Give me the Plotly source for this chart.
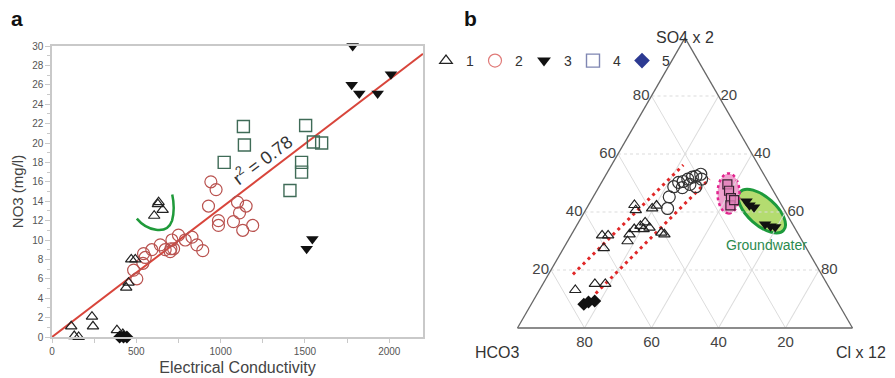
import math
import plotly.graph_objects as go

W, H = 895, 378
PAGE_OFF = 8          # the html body margin shifts the figure by 8 px
FONT = "Arial, Liberation Sans, sans-serif"

# ---------------- Panel a : NO3 vs Electrical Conductivity ----------------
tri_ec = [114, 132, 158, 237, 243, 385, 420, 440, 454, 470, 494, 606, 632, 628, 656]
tri_no3 = [1.1, 0.1, 0.0, 2.1, 1.1, 0.7, 0.3, 5.1, 5.6, 8.0, 8.0, 12.5, 13.9, 13.7, 13.1]

cir_ec = [503, 484, 539, 553, 543, 592, 642, 671, 701, 705, 721, 711, 750, 790, 830, 859, 894,
          928, 942, 973, 987, 987, 1076, 1112, 1100, 1151, 1131, 1190]
cir_no3 = [6.0, 6.9, 7.6, 8.2, 8.6, 9.0, 9.5, 9.0, 8.8, 9.1, 9.1, 10.0, 10.5, 10.0, 10.3, 9.5, 8.9,
           13.5, 16.0, 15.2, 12.0, 11.5, 11.9, 12.8, 13.9, 13.5, 11.0, 11.5]

sq_ec = [1021, 1135, 1141, 1411, 1480, 1480, 1504, 1550, 1599]
sq_no3 = [18.0, 21.7, 19.8, 15.1, 18.0, 17.0, 21.8, 20.1, 20.0]

inv_ec = [1783, 1777, 1822, 1931, 2010, 1510, 1544]
inv_no3 = [30.0, 26.0, 25.1, 25.1, 27.1, 9.1, 10.1]

dia_ec = [401, 424, 444]
dia_no3 = [0.0, 0.0, 0.0]

reg_slope = 0.01327
reg_intercept = 0.0
ec_range = [0, 2200]
no3_range = [0, 30]
ec_ticks = [0, 500, 1000, 1500, 2000]
r2_label = "r<sup>2</sup> = 0.78"

# ---------------- Panel b : ternary (SO4 x2, HCO3, Cl x12) ----------------
t1_so4 = [13.1, 15.2, 15.2, 27.5, 31.9, 31.9, 29.9, 32.3, 34.1, 35.2, 36.4, 34.6, 42.4, 40.6, 41.2, 42.2, 32.9, 32.3, 34.1]
t1_cl = [10.7, 15.5, 18.6, 12.0, 9.3, 11.1, 17.9, 17.3, 17.8, 19.1, 19.9, 22.1, 13.7, 15.0, 19.6, 20.4, 26.5, 27.7, 20.6]
t1_hco3 = [76.2, 69.3, 66.2, 60.5, 58.8, 57.0, 52.2, 50.4, 48.1, 45.7, 43.7, 43.3, 43.9, 44.4, 39.2, 37.4, 40.6, 40.0, 45.3]

t2_so4 = [45.2, 41.2, 48.7, 50.2, 50.5, 51.3, 52.0, 52.3, 53.0, 51.3, 48.7, 49.5, 48.4]
t2_cl = [22.7, 24.2, 22.3, 23.0, 24.2, 25.2, 26.2, 27.1, 28.2, 29.3, 28.9, 26.7, 25.0]
t2_hco3 = [32.1, 34.6, 29.0, 26.8, 25.3, 23.5, 21.8, 20.6, 18.8, 19.4, 22.4, 23.8, 26.6]

t3_so4 = [43.7, 42.3, 41.6, 35.8, 35.1, 34.8]
t3_cl = [46.5, 48.1, 49.8, 56.0, 58.0, 59.5]
t3_hco3 = [9.8, 9.6, 8.6, 8.2, 6.9, 5.7]

t4_so4 = [49.5, 47.3, 44.8, 42.3, 44.1]
t4_cl = [37.9, 39.5, 41.3, 42.4, 42.6]
t4_hco3 = [12.6, 13.2, 13.9, 15.3, 13.3]

t5_so4 = [8.2, 9.0, 9.3]
t5_cl = [15.7, 16.7, 18.4]
t5_hco3 = [76.1, 74.3, 72.3]

# dotted trend envelope lines (start, end) in ternary percentages
upper_so4, upper_cl, upper_hco3 = [18.5, 56.2], [7.3, 21.4], [74.2, 22.4]
lower_so4, lower_cl, lower_hco3 = [11.9, 51.4], [17.4, 31.6], [70.7, 17.0]

tern_ticks = [20, 40, 60, 80]
legend_names = ["1", "2", "3", "4", "5"]


# ---------------- layout geometry (in screen px of the page) ----------------
def sx(x):
    return (x - PAGE_OFF) / W


def sy(y):
    return 1 - (y - PAGE_OFF) / H


AX_L, AX_R, AX_T, AX_B = 52, 423, 46, 337          # panel a plot box
T_L, T_R, T_B = 517.5, 852.5, 328                 # ternary triangle
T_T = T_B - (T_R - T_L) * math.sqrt(3) / 2


def tern_to_paper(a, c):
    """ternary fractions (top, right) -> paper coords of the drawn triangle"""
    x = T_L + (T_R - T_L) * (c + a / 2)
    y = T_B - (T_B - T_T) * a
    return sx(x), sy(y)


def ellipse_path(cx, cy, ra, rb, ang_deg):
    """closed cubic-bezier ellipse path; centre in paper coords, radii in px"""
    th = math.radians(ang_deg)
    ux, uy = math.cos(th), math.sin(th)
    vx, vy = -math.sin(th), math.cos(th)
    k = 0.5523
    pcx, pcy = cx * W, (1 - cy) * H

    def pt(t):
        return (pcx + ra * math.cos(t) * ux + rb * math.sin(t) * vx,
                pcy + ra * math.cos(t) * uy + rb * math.sin(t) * vy)

    def dv(t):
        return (-ra * math.sin(t) * ux + rb * math.cos(t) * vx,
                -ra * math.sin(t) * uy + rb * math.cos(t) * vy)

    def P(x, y):
        return f"{x / W:.5f},{1 - y / H:.5f}"

    x0, y0 = pt(0)
    s = "M" + P(x0, y0)
    for i in range(4):
        t0, t1 = i * math.pi / 2, (i + 1) * math.pi / 2
        p0, p1 = pt(t0), pt(t1)
        d0, d1 = dv(t0), dv(t1)
        c1 = (p0[0] + k * d0[0], p0[1] + k * d0[1])
        c2 = (p1[0] - k * d1[0], p1[1] - k * d1[1])
        s += " C" + P(*c1) + " " + P(*c2) + " " + P(*p1)
    return s + " Z"


fig = go.Figure()

# ---- panel a traces ----
fig.add_trace(go.Scatter(x=ec_range, y=[reg_intercept + reg_slope * v for v in ec_range],
                         mode="lines", line=dict(color="#d8453b", width=2), showlegend=False))
fig.add_trace(go.Scatter(x=cir_ec, y=cir_no3, mode="markers", showlegend=False, cliponaxis=False,
                         marker=dict(symbol="circle-open", size=12, color="#b9524f", line=dict(width=1.2))))
fig.add_trace(go.Scatter(x=tri_ec, y=tri_no3, mode="markers", showlegend=False, cliponaxis=False,
                         marker=dict(symbol="triangle-up-open", size=10, color="#222", line=dict(width=1.2))))
fig.add_trace(go.Scatter(x=sq_ec, y=sq_no3, mode="markers", showlegend=False, cliponaxis=False,
                         marker=dict(symbol="square-open", size=12, color="#3f6b57", line=dict(width=1.4))))
fig.add_trace(go.Scatter(x=inv_ec, y=inv_no3, mode="markers", showlegend=False, cliponaxis=False,
                         marker=dict(symbol="triangle-down", size=11, color="#111")))
fig.add_trace(go.Scatter(x=dia_ec, y=dia_no3, mode="markers", showlegend=False, cliponaxis=False,
                         marker=dict(symbol="diamond", size=10, color="#111")))

# ---- panel b traces ----
for so4, cl, hco3 in [(upper_so4, upper_cl, upper_hco3), (lower_so4, lower_cl, lower_hco3)]:
    fig.add_trace(go.Scatterternary(a=so4, b=hco3, c=cl, mode="lines", showlegend=False,
                                    line=dict(color="#e02828", width=3, dash="3px,4px")))
fig.add_trace(go.Scatterternary(a=t1_so4, b=t1_hco3, c=t1_cl, mode="markers", showlegend=False,
                                marker=dict(symbol="triangle-up-open", size=10, color="#222", line=dict(width=1.2))))
fig.add_trace(go.Scatterternary(a=t2_so4, b=t2_hco3, c=t2_cl, mode="markers", showlegend=False,
                                marker=dict(symbol="circle-open", size=12, color="#333", line=dict(width=1.2))))
fig.add_trace(go.Scatterternary(a=t4_so4, b=t4_hco3, c=t4_cl, mode="markers", showlegend=False,
                                marker=dict(symbol="square", size=9, color="rgba(225,130,185,0.8)",
                                            line=dict(color="#3a2232", width=1.2))))
fig.add_trace(go.Scatterternary(a=t3_so4, b=t3_hco3, c=t3_cl, mode="markers", showlegend=False,
                                marker=dict(symbol="triangle-down", size=11, color="#111")))
fig.add_trace(go.Scatterternary(a=t5_so4, b=t5_hco3, c=t5_cl, mode="markers", showlegend=False,
                                marker=dict(symbol="diamond", size=10, color="#111")))

# ---- legend keys ----
leg_style = [
    dict(symbol="triangle-up-open", size=11, color="#222", line=dict(width=1.2)),
    dict(symbol="circle-open", size=13, color="#e07a78", line=dict(width=1.2)),
    dict(symbol="triangle-down", size=12, color="#111"),
    dict(symbol="square-open", size=13, color="#7f86b2", line=dict(width=1.4)),
    dict(symbol="diamond", size=12, color="#2c3a92"),
]
for name, mk in zip(legend_names, leg_style):
    fig.add_trace(go.Scatter(x=[None], y=[None], mode="markers", name=name, marker=mk, showlegend=True))

# ---- shapes: green ellipse, pink blob, green hand-drawn curve ----
gx, gy = tern_to_paper(0.403, 0.528)
px_, py_ = tern_to_paper(0.464, 0.398)
shapes = [
    dict(type="path", xref="paper", yref="paper", layer="below",
         path=ellipse_path(gx, gy, 29, 14, 41.5),
         fillcolor="#b4dc70", line=dict(color="#1d9a3c", width=3)),
    dict(type="path", xref="paper", yref="paper", layer="below",
         path=ellipse_path(px_, py_, 20, 11, 90),
         fillcolor="#f0a2cf", line=dict(color="#e2248e", width=2.5, dash="dot")),
    dict(type="path", xref="x", yref="y",
         path="M503,12.2 C560,11.0 680,10.4 712,12.0 C724,12.8 723,13.9 713,14.7",
         line=dict(color="#1f9a3a", width=2.5)),
]

gwx, gwy = tern_to_paper(0.287, 0.599)
title_font = dict(family=FONT, size=16, color="#333")


def ann(x, y, text, font, **kw):
    d = dict(x=x, y=y, xref="paper", yref="paper", text=text, showarrow=False,
             xanchor="center", yanchor="middle", font=font)
    d.update(kw)
    return d


annotations = [
    dict(x=1246, y=18.3, xref="x", yref="y", text=r2_label, textangle=-37, showarrow=False,
         xanchor="center", yanchor="middle", font=dict(family=FONT, size=18, color="#333")),
    ann(sx(17), sy(18), "<b>a</b>", dict(family=FONT, size=21, color="#111")),
    ann(sx(470), sy(18), "<b>b</b>", dict(family=FONT, size=21, color="#111")),
    ann(gwx, gwy, "Groundwater", dict(family=FONT, size=14, color="#2b8a4e")),
    # ternary corner titles
    ann(sx(685), sy(37.5), "SO4 x 2", title_font),
    ann(sx(497), sy(352), "HCO3", title_font),
    ann(sx(861), sy(352), "Cl x 12", title_font),
]

tern_axis = dict(tickvals=tern_ticks, ticks="", showline=True, linecolor="#666", linewidth=1.3,
                 gridcolor="#dcdcdc", gridwidth=1, tickfont=dict(family=FONT, size=15, color="#444"),
                 min=0, title=dict(text=""))

fig.update_layout(
    width=W, height=H, autosize=False,
    margin=dict(l=0, r=0, t=0, b=0, autoexpand=False),
    paper_bgcolor="white", plot_bgcolor="white",
    font=dict(family=FONT, color="#333"),
    xaxis=dict(domain=[sx(AX_L), sx(AX_R)], range=ec_range, tickvals=ec_ticks, automargin=False,
               showgrid=False, zeroline=False, showline=True, mirror=True,
               linecolor="#c9c9c9", linewidth=1.5, ticks="outside", ticklen=4, tickcolor="#c9c9c9",
               minor=dict(dtick=250, ticks="outside", ticklen=4, tickcolor="#c9c9c9"),
               tickfont=dict(family=FONT, size=10, color="#555"),
               title=dict(text="Electrical Conductivity", font=dict(family=FONT, size=16, color="#444"),
                          standoff=6)),
    yaxis=dict(domain=[sy(AX_B), sy(AX_T)], range=no3_range, dtick=2, automargin=False,
               showgrid=False, zeroline=False, showline=True, mirror=True,
               linecolor="#c9c9c9", linewidth=1.5, ticks="outside", ticklen=5, tickcolor="#c9c9c9",
               minor=dict(dtick=1, ticks="outside", ticklen=3, tickcolor="#c9c9c9"),
               tickfont=dict(family=FONT, size=10, color="#555"),
               title=dict(text="NO3 (mg/l)", font=dict(family=FONT, size=15, color="#444"), standoff=5)),
    ternary=dict(
        domain=dict(x=[sx(T_L), sx(T_R)], y=[sy(T_B), sy(T_T)]),
        bgcolor="rgba(0,0,0,0)", sum=100,
        aaxis=dict(griddash="dot", **tern_axis),
        baxis=dict(**tern_axis),
        caxis=dict(**tern_axis),
    ),
    legend=dict(orientation="h", x=sx(426), y=sy(61), xanchor="left", yanchor="middle",
                font=dict(family=FONT, size=14, color="#333"), itemwidth=30,
                entrywidth=4, entrywidthmode="pixels",
                bgcolor="rgba(0,0,0,0)", tracegroupgap=0),
    shapes=shapes,
    annotations=annotations,
)

fig.write_html("out.html")
